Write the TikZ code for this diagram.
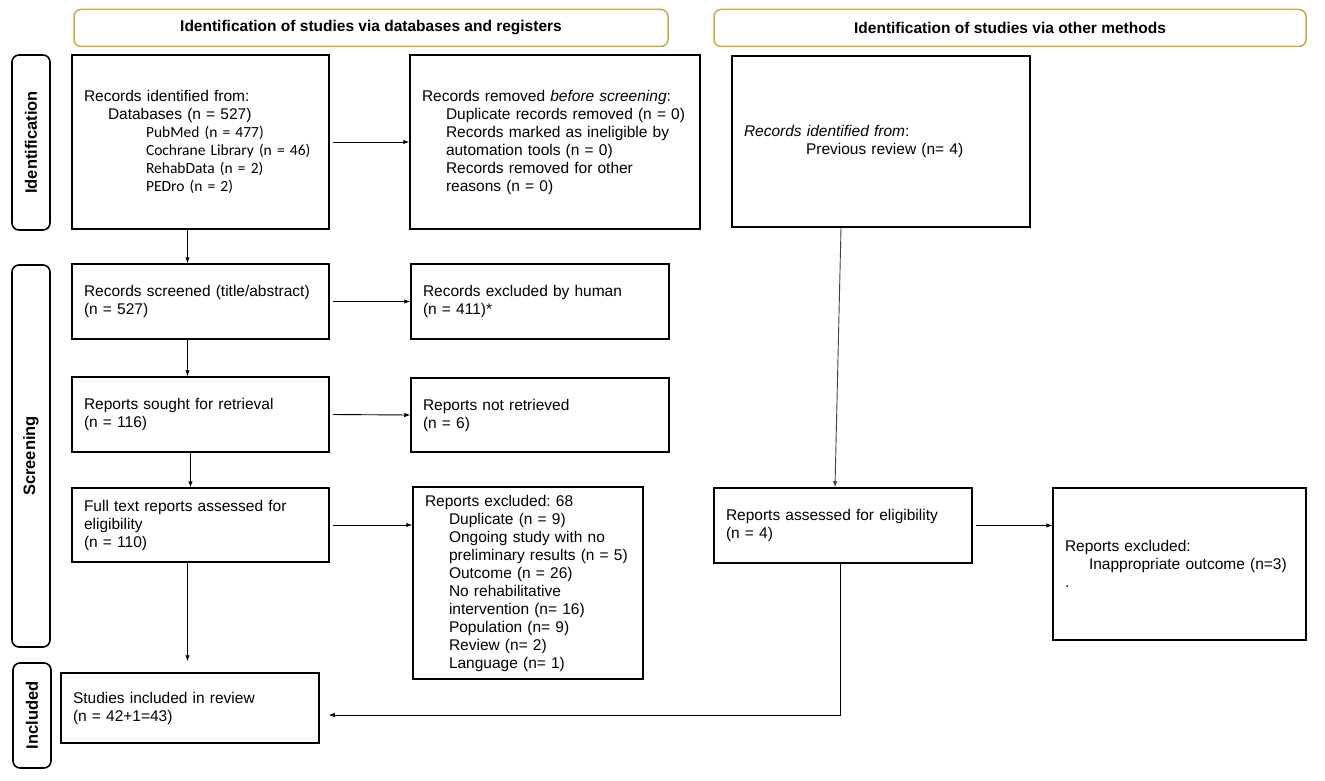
\documentclass[tikz,border=0pt]{standalone}
\usepackage{fontspec}
\setmainfont{Liberation Sans}
\newfontfamily\carlito{Carlito}
\usepackage{tikz}
\usetikzlibrary{positioning,calc,arrows.meta}
\pgfdeclarelayer{background}
\pgfsetlayers{background,main}
\definecolor{prismagold}{rgb}{0.78, 0.66, 0.26}
\frenchspacing
\newcommand{\prisfont}{\fontsize{15.5}{18}\selectfont}
\newcommand{\prisind}{\hspace*{24pt}}
\newcommand{\prisindd}{\hspace*{62pt}}
\tikzstyle{prismabox} = [draw, line width = 1.5pt, align = left, inner xsep = 12pt, inner ysep = 3pt, font = \prisfont]
\tikzstyle{prismahead} = [draw = prismagold, line width = 1.5pt, rounded corners = 7pt, inner sep = 0pt, font = \bfseries\prisfont]
\tikzstyle{prismaside} = [draw, line width = 1.6pt, rounded corners = 7pt, rotate = 90, inner sep = 0pt, font = \bfseries\fontsize{16.5}{18}\selectfont]
\tikzstyle{prismaarrow} = [-{Latex[length = 6pt, width = 4.5pt]}, line width = 0.9pt]

\begin{document}
\begin{tikzpicture}[x = 1pt, y = -1pt]
\useasboundingbox (0,0) rectangle (1325,781);
\node[prismahead, minimum width = 594pt, minimum height = 37pt] (hdb) at (371, 28) {Identification of studies via databases and registers};
\node[prismahead, minimum width = 592pt, minimum height = 37pt] (hdo) at (1010, 28) {Identification of studies via other methods};
\node[prismaside, minimum width = 175pt, minimum height = 38pt] (sid) at (31, 142.5) {Identification};
\node[prismaside, minimum width = 382pt, minimum height = 38pt] (sscr) at (31, 456) {Screening};
\node[prismaside, minimum width = 105pt, minimum height = 38pt] (sinc) at (32, 715.5) {Included};
\node[prismabox, text width = 233pt, minimum height = 174pt] (rec) at (200.5, 142) {Records identified from:\\
\prisind Databases (n = 527)\\
{\carlito\prisindd PubMed (n = 477)}\\
{\carlito\prisindd Cochrane Library (n = 46)}\\
{\carlito\prisindd RehabData (n = 2)}\\
{\carlito\prisindd PEDro (n = 2)}};
\node[prismabox, text width = 266pt, minimum height = 174pt] (rem) at (555, 142) {Records removed \textit{before screening}:\\
\prisind Duplicate records removed (n = 0)\\
\prisind Records marked as ineligible by\\
\prisind automation tools (n = 0)\\
\prisind Records removed for other\\
\prisind reasons (n = 0)};
\node[prismabox, text width = 274pt, minimum height = 171pt] (oth) at (881, 141.5) {\textit{Records identified from}:\\
\prisindd Previous review (n= 4)};
\node[prismabox, text width = 233pt, minimum height = 75pt] (scr) at (200.5, 301.5) {Records screened (title/abstract)\\(n = 527)};
\node[prismabox, text width = 234pt, minimum height = 75pt] (exc) at (540, 301.5) {Records excluded by human\\(n = 411)*};
\node[prismabox, text width = 233pt, minimum height = 75pt] (sou) at (200.5, 414.5) {Reports sought for retrieval\\(n = 116)};
\node[prismabox, text width = 234pt, minimum height = 74pt] (nret) at (540, 415) {Reports not retrieved\\(n = 6)};
\node[prismabox, text width = 233pt, minimum height = 74pt] (full) at (200.5, 525) {Full text reports assessed for\\eligibility\\(n = 110)};
\node[prismabox, text width = 206pt, minimum height = 192pt] (rexc) at (528, 583) {Reports excluded: 68\\
\prisind Duplicate (n = 9)\\
\prisind Ongoing study with no\\
\prisind preliminary results (n = 5)\\
\prisind Outcome (n = 26)\\
\prisind No rehabilitative\\
\prisind intervention (n= 16)\\
\prisind Population (n= 9)\\
\prisind Review (n= 2)\\
\prisind Language (n= 1)};
\node[prismabox, text width = 234pt, minimum height = 75pt] (oasm) at (843, 525.5) {Reports assessed for eligibility\\(n = 4)};
\node[prismabox, text width = 229pt, minimum height = 152pt] (oexc) at (1179.5, 564) {Reports excluded:\\
\prisind Inappropriate outcome (n=3)\\
.};
\node[prismabox, text width = 234pt, minimum height = 70pt] (inc) at (190, 708) {Studies included in review\\(n = 42+1=43)};
\begin{pgfonlayer}{background}
\draw[prismaarrow, shorten <= 3pt] (rec.east) -- (rem.west);
\draw[prismaarrow, shorten <= 3pt] (scr.east) -- (exc.west);
\draw[prismaarrow, shorten <= 3pt] (sou.east) -- (nret.west);
\draw[prismaarrow, shorten <= 3pt] (full.east) -- (full.east -| rexc.west);
\draw[prismaarrow, shorten <= 3pt] (oasm.east) -- (oasm.east -| oexc.west);
\draw[prismaarrow] ([xshift = -13pt]rec.south) -- ([xshift = -13pt]scr.north);
\draw[prismaarrow] ([xshift = -13pt]scr.south) -- ([xshift = -13pt]sou.north);
\draw[prismaarrow] ([xshift = -10pt]sou.south) -- ([xshift = -10pt]full.north);
\draw[prismaarrow, shorten >= 11pt] ([xshift = -13pt]full.south) -- ([xshift = -13pt]full.south |- inc.north);
\draw[prismaarrow, black!75] ([xshift = -40pt]oth.south) -- ([xshift = -8pt]oasm.north);
\draw[prismaarrow, shorten >= 9pt] ([xshift = -3pt]oasm.south) |- ([yshift = -7pt]inc.east);
\end{pgfonlayer}
\end{tikzpicture}
\end{document}
